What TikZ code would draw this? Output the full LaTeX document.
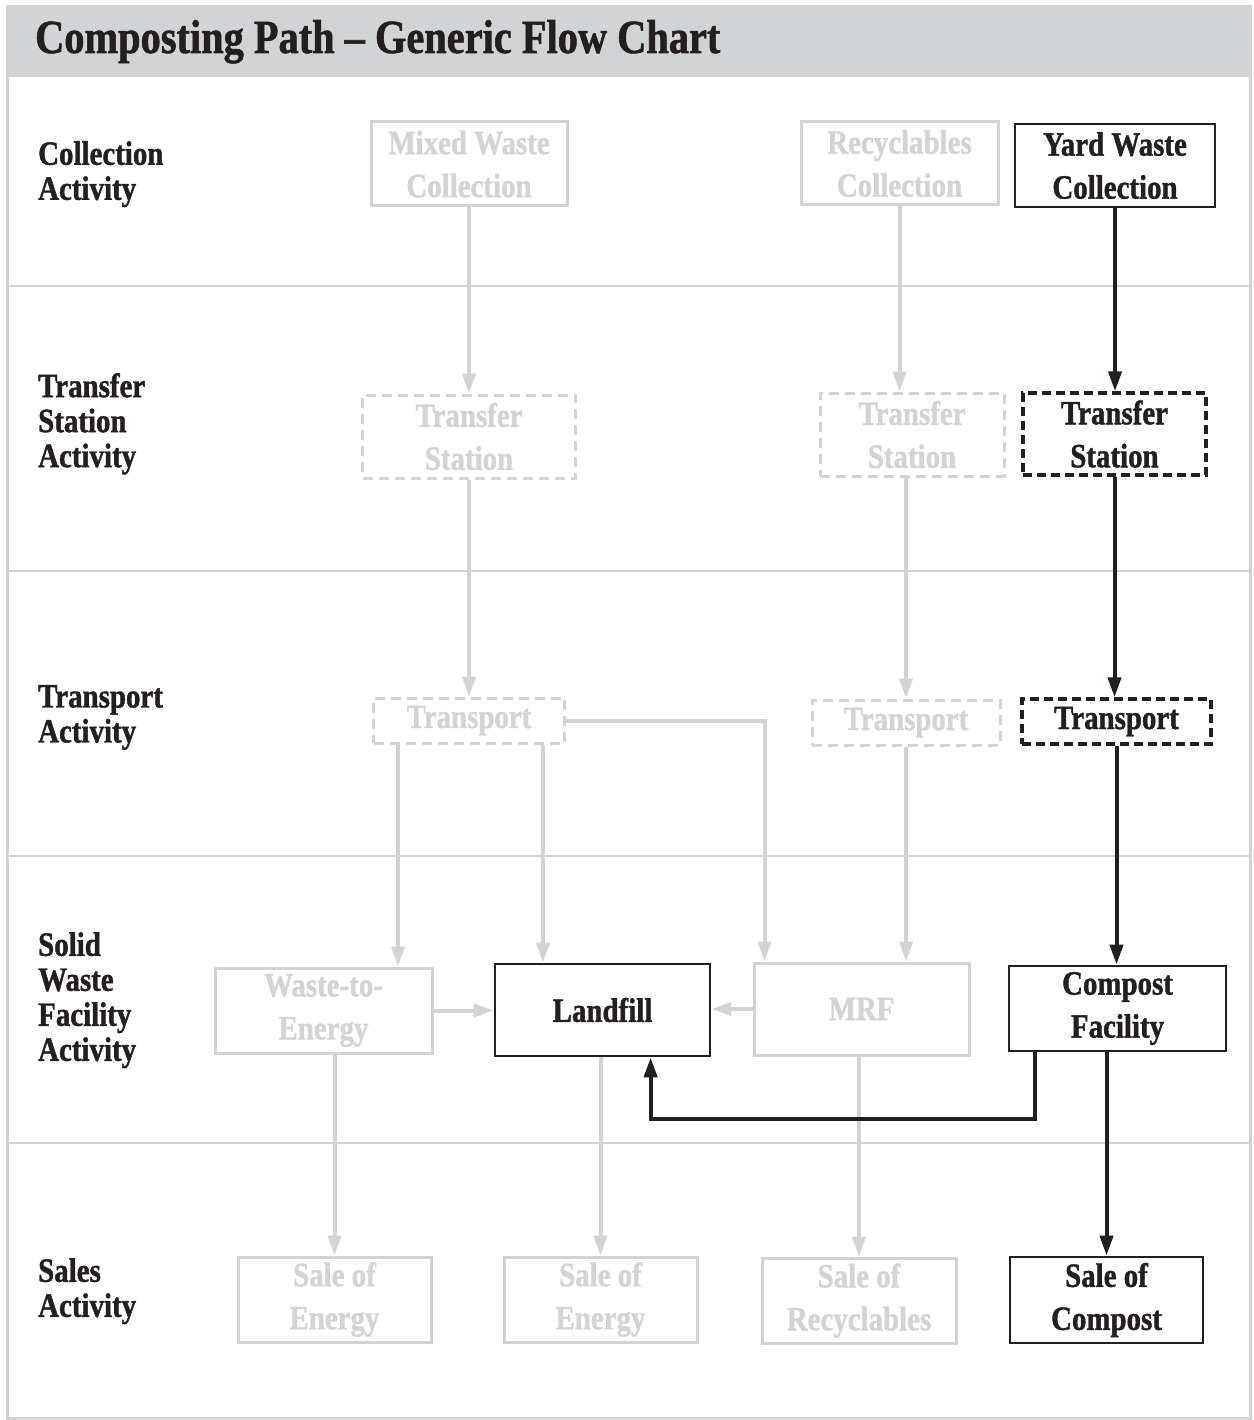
\documentclass[tikz,border=0pt]{standalone}
\usepackage{fontspec}
\setmainfont[FakeStretch=0.85, BoldFeatures={FakeBold=1.2}]{Liberation Serif}
\usepackage{tikz}
\usetikzlibrary{arrows.meta, calc, positioning}
\definecolor{chartgray}{RGB}{209,211,212}
\definecolor{chartblack}{RGB}{35,31,32}

\begin{document}
\begin{tikzpicture}[x=1pt, y=-1pt, >={Triangle[length=20pt,width=13pt]},
  box/.style={draw, rectangle, inner sep=0pt, align=center, font=\bfseries\fontsize{34}{43}\selectfont},
  lightbox/.style={box, draw=chartgray, text=chartgray, line width=3pt},
  darkbox/.style={box, draw=chartblack, text=chartblack, line width=2.8pt},
  lightdash/.style={lightbox, dash pattern=on 10pt off 6pt},
  darkdash/.style={darkbox, line width=3.3pt, dash pattern=on 9pt off 5pt},
  lightflow/.style={->, draw=chartgray, line width=4pt},
  darkflow/.style={->, draw=chartblack, line width=4pt},
  rowlabel/.style={anchor=north west, inner sep=0pt, align=left, text=chartblack, font=\bfseries\fontsize{34}{35}\selectfont}]
  \useasboundingbox (0,0) rectangle (1253,1420);

  %% frame and rows
  \fill[chartgray] (7,7) rectangle (1250,77);
  \draw[chartgray, line width=3pt] (7,7) rectangle (1250,1418);
  \foreach \ry in {286,571,856,1143}
    \draw[chartgray, line width=2.5pt] (7,\ry) -- (1250,\ry);
  \node[anchor=base west, inner sep=0pt, text=chartblack, font=\bfseries\fontsize{47.5}{50}\selectfont] (title) at (35,53) {Composting Path – Generic Flow Chart};

  %% row labels
  \node[rowlabel] (lblcoll) at (38,141) {Collection\\Activity};
  \node[rowlabel] (lbltrans) at (38,373) {Transfer\\Station\\Activity};
  \node[rowlabel] (lblport) at (38,685) {Transport\\Activity};
  \node[rowlabel] (lblfac) at (38,932) {Solid\\Waste\\Facility\\Activity};
  \node[rowlabel] (lblsale) at (38,1258) {Sales\\Activity};

  %% mixed waste column
  \node[lightbox, minimum width=196, minimum height=84] (mwc) at (469,164) {Mixed Waste\\Collection};
  \node[lightdash, minimum width=213, minimum height=83, below=186pt of mwc] (ts1) {Transfer\\Station};
  \node[lightdash, minimum width=191, minimum height=45, below=217pt of ts1] (tr1) {Transport};

  %% recyclables column
  \node[lightbox, minimum width=197, minimum height=83] (rcc) at (899.5,163.5) {Recyclables\\Collection};
  \node[lightdash, minimum width=184, minimum height=83] (ts2) at (912,434.5) {Transfer\\Station};
  \node[lightdash, minimum width=188, minimum height=45] (tr2) at (906,722.5) {Transport};

  %% yard waste column
  \node[darkbox, minimum width=200, minimum height=83] (ywc) at (1115,165.5) {Yard Waste\\Collection};
  \node[darkdash, minimum width=183, minimum height=82] (ts3) at (1114.5,434) {Transfer\\Station};
  \node[darkdash, minimum width=189, minimum height=45] (tr3) at (1116.5,721.5) {Transport};

  %% facilities
  \node[lightbox, minimum width=217, minimum height=85] (w2e) at (323.5,1010.5) {Waste-to-\\Energy};
  \node[darkbox, minimum width=215, minimum height=92] (lf) at (602.5,1010) {Landfill};
  \node[lightbox, minimum width=215, minimum height=92] (mrf) at (861.5,1009) {MRF};
  \node[darkbox, minimum width=217, minimum height=85] (cmp) at (1117.5,1008.5) {Compost\\Facility};

  %% sales
  \node[lightbox, minimum width=193, minimum height=85] (se1) at (334.5,1299.5) {Sale of\\Energy};
  \node[lightbox, minimum width=193, minimum height=85] (se2) at (600.5,1299.5) {Sale of\\Energy};
  \node[lightbox, minimum width=194, minimum height=85] (sr) at (859,1300.5) {Sale of\\Recyclables};
  \node[darkbox, minimum width=193, minimum height=86] (sc) at (1106.5,1300) {Sale of\\Compost};

  %% grey flows
  \draw[lightflow] (mwc.south) -- (ts1.north);
  \draw[lightflow] (ts1.south) -- (tr1.north);
  \draw[lightflow] (rcc.south) -- (rcc.south |- ts2.north);
  \draw[lightflow] (ts2.south -| tr2.north) -- (tr2.north);
  \draw[lightflow] ([xshift=26pt]tr1.south west) -- ([xshift=26pt]tr1.south west |- w2e.north);
  \draw[lightflow] ([xshift=-23pt]tr1.south east) -- ([xshift=-23pt]tr1.south east |- lf.north);
  \draw[lightflow] (tr1.east) -| ([xshift=12pt]mrf.north west);
  \draw[lightflow] (tr2.south) -- (tr2.south |- mrf.north);
  \draw[lightflow] (w2e.east) -- (w2e.east -| lf.west);
  \draw[lightflow] (mrf.west) -- (mrf.west -| lf.east);
  \draw[lightflow] (w2e.south -| se1.north) -- (se1.north);
  \draw[lightflow] (lf.south -| se2.north) -- (se2.north);
  \draw[lightflow] (mrf.south -| sr.north) -- (sr.north);

  %% compost path
  \draw[darkflow] (ywc.south) -- (ywc.south |- ts3.north);
  \draw[darkflow] (ts3.south) -- (ts3.south |- tr3.north);
  \draw[darkflow] (tr3.south) -- (tr3.south |- cmp.north);
  \draw[darkflow] (cmp.south -| sc.north) -- (sc.north);
  \draw[darkflow] ([xshift=27pt]cmp.south west) -- ++(0,67) -| ([xshift=157pt]lf.south west);
\end{tikzpicture}
\end{document}
